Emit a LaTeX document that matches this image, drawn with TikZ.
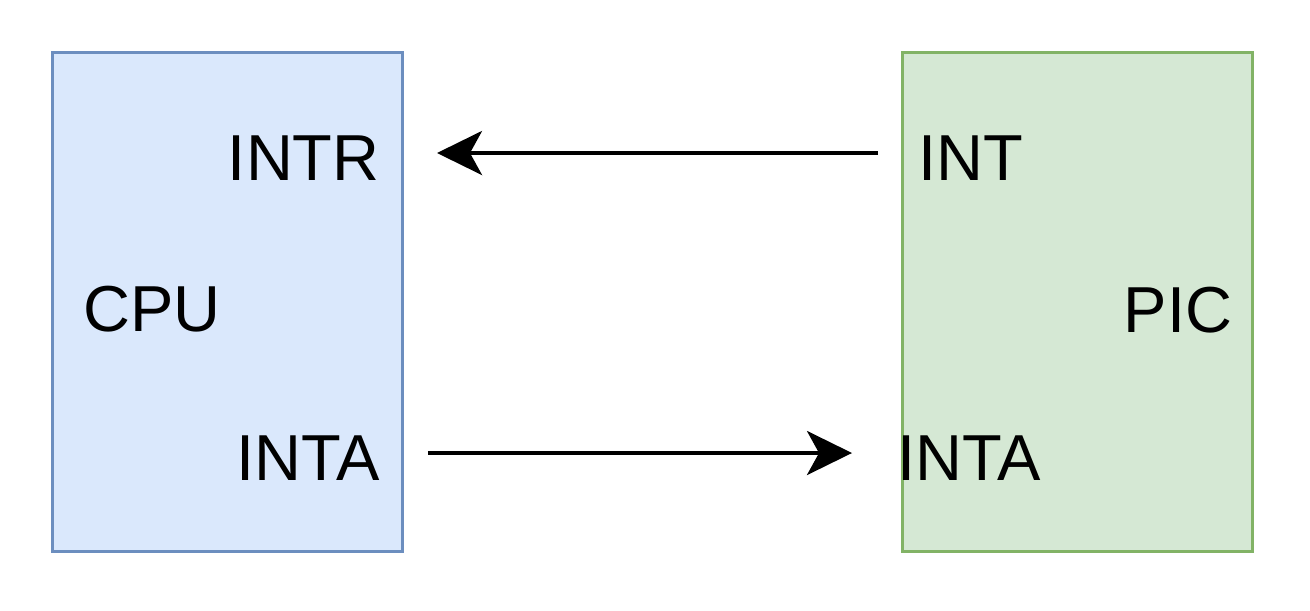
\documentclass[tikz,border=0pt]{standalone}
\usepackage{fontspec}
\setmainfont{Liberation Sans}
\usetikzlibrary{arrows.meta,positioning}
\definecolor{CpuFill}{HTML}{DAE8FC}
\definecolor{CpuLine}{HTML}{6C8EBF}
\definecolor{PicFill}{HTML}{D5E8D4}
\definecolor{PicLine}{HTML}{82B366}

\begin{document}
\begin{tikzpicture}[
    x=0.02cm, y=-0.02cm,
    chip/.style={
      draw,
      line width=0.06cm,
      minimum width=7.0cm,
      minimum height=10.0cm,
      inner sep=0pt
    },
    pin/.style={
      inner sep=0pt,
      font=\fontsize{37}{40}\selectfont
    },
    arrow/.style={
      -{Stealth[length=0.9cm,width=0.88cm,inset=0.24cm]},
      line width=0.08cm
    }]

    \useasboundingbox (0,0) rectangle (1310,610);

    % two chips
    \node[chip,draw=CpuLine,fill=CpuFill] (cpu) at (227.5,302) {};
    \node[chip,draw=PicLine,fill=PicFill] (pic) at (1077.5,302) {};

    % pin labels
    \node[pin,anchor=east] (intr) at (380,158) {INTR};
    \node[pin,anchor=east] (intacpu) at (380,458) {INTA};
    \node[pin,anchor=west] (int) at (918,158) {INT};
    \node[pin,anchor=west] (intapic) at (897,458) {INTA};
    \node[pin] (cpulabel) at (152,309) {CPU};
    \node[pin] (piclabel) at (1178,310) {PIC};

    % signal lines
    \draw[arrow] ([yshift=0.1cm]int.west) ++(-40,0) -- ([yshift=0.1cm,xshift=1.14cm]intr.east);
    \draw[arrow] ([yshift=0.1cm,xshift=0.96cm]intacpu.east) -- ([yshift=0.1cm,xshift=-0.9cm]intapic.west);
  \end{tikzpicture}
\end{document}
